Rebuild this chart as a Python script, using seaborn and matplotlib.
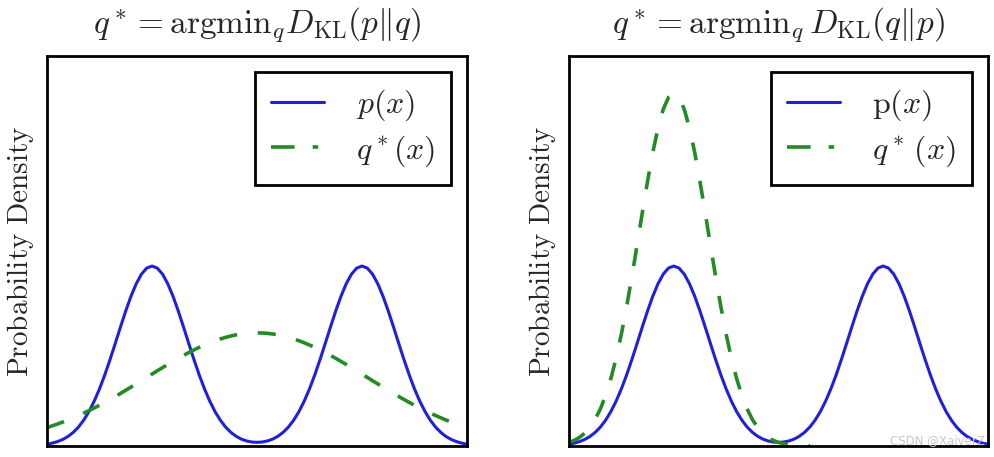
import numpy as np
import pandas as pd
import matplotlib
matplotlib.use("Agg")
import matplotlib.pyplot as plt
import seaborn as sns

# ---- data (x from -2 to 2, step 0.05) ----
x_vals = [round(-2.0 + 0.05 * i, 2) for i in range(81)]

# p(x): symmetric, listed from x=-2 to x=0
p_half = [0.0061, 0.0096, 0.0147, 0.0219, 0.0320, 0.0457, 0.0637, 0.0869, 0.1158, 0.1508,
          0.1918, 0.2386, 0.2900, 0.3445, 0.3999, 0.4537, 0.5031, 0.5452, 0.5774, 0.5976,
          0.6045, 0.5976, 0.5774, 0.5452, 0.5031, 0.4537, 0.3999, 0.3445, 0.2900, 0.2386,
          0.1918, 0.1508, 0.1158, 0.0870, 0.0640, 0.0462, 0.0329, 0.0233, 0.0170, 0.0134,
          0.0123]
p_vals = p_half + p_half[-2::-1]

# q*(x) left panel: symmetric, listed from x=-2 to x=0
q_left_half = [0.0619, 0.0678, 0.0739, 0.0805, 0.0874, 0.0948, 0.1025, 0.1105, 0.1190, 0.1278,
               0.1370, 0.1465, 0.1562, 0.1663, 0.1766, 0.1871, 0.1978, 0.2086, 0.2195, 0.2305,
               0.2415, 0.2524, 0.2632, 0.2738, 0.2843, 0.2944, 0.3043, 0.3137, 0.3228, 0.3313,
               0.3393, 0.3467, 0.3534, 0.3595, 0.3648, 0.3694, 0.3732, 0.3762, 0.3783, 0.3796,
               0.3800]
q_left_vals = q_left_half + q_left_half[-2::-1]

# q*(x) right panel: visible from x=-2 to about x=0.3
x_right_q = [round(-2.0 + 0.05 * i, 2) for i in range(47)]
q_right_vals = [0.0120, 0.0188, 0.0288, 0.0430, 0.0628, 0.0895, 0.1249, 0.1702, 0.2269, 0.2955,
                0.3759, 0.4676, 0.5683, 0.6752, 0.7838, 0.8892, 0.9861, 1.0685, 1.1315, 1.1712,
                1.1847, 1.1712, 1.1315, 1.0685, 0.9861, 0.8892, 0.7838, 0.6752, 0.5683, 0.4676,
                0.3759, 0.2955, 0.2269, 0.1702, 0.1249, 0.0895, 0.0628, 0.0430, 0.0288, 0.0188,
                0.0120, 0.0075, 0.0046, 0.0027, 0.0016, 0.0009, 0.0005]

titles = [r"$q^* = \mathrm{argmin}_q D_{\mathrm{KL}}(p\|q)$",
          r"$q^* = \mathrm{argmin}_q\, D_{\mathrm{KL}}(q\|p)$"]
p_labels = [r"$p(x)$", r"$\mathrm{p}(x)$"]
q_labels = [r"$q^*(x)$", r"$q^*\,(x)$"]
ylabel = r"$\mathrm{Probability\ Density}$"

sns.set_style("white")
plt.rcParams["mathtext.fontset"] = "cm"
plt.rcParams["font.family"] = ["DejaVu Sans"]
plt.rcParams["lines.scale_dashes"] = False

fig = plt.figure(figsize=(9.95, 4.57), dpi=100)
W, H = 995, 457
ax_l = fig.add_axes([47 / W, (H - 446) / H, 420 / W, 390 / H])
ax_r = fig.add_axes([569 / W, (H - 446) / H, 419 / W, 390 / H])

df_p = pd.DataFrame({"x": x_vals, "p": p_vals})
df_ql = pd.DataFrame({"x": x_vals, "q": q_left_vals})
df_qr = pd.DataFrame({"x": x_right_q, "q": q_right_vals})

blue = "#2020d8"
green = "#228b22"

for i, (ax, dq) in enumerate([(ax_l, df_ql), (ax_r, df_qr)]):
    sns.lineplot(data=df_p, x="x", y="p", ax=ax, color=blue, linewidth=2.2,
                 label=p_labels[i], legend=False)
    sns.lineplot(data=dq, x="x", y="q", ax=ax, color=green, linewidth=2.6,
                 label=q_labels[i], legend=False)
    ax.lines[-1].set_dashes((13, 15))
    ax.set_xlim(-2, 2)
    ax.set_ylim(0, 1.31)
    ax.set_xticks([])
    ax.set_yticks([])
    ax.set_xlabel("")
    ax.set_ylabel(ylabel, fontsize=21, labelpad=8)
    ax.set_title(titles[i], fontsize=24, pad=17)
    for s in ax.spines.values():
        s.set_visible(True)
        s.set_color("black")
        s.set_linewidth(2.0)
    leg = ax.legend(loc="upper right", fontsize=23, frameon=True, fancybox=False,
                    framealpha=1, edgecolor="black", handlelength=1.65,
                    handletextpad=1.0, borderpad=0.5, labelspacing=0.3,
                    borderaxespad=0.5)
    leg.get_frame().set_linewidth(2.0)
    leg.get_lines()[1].set_dashes((17, 13, 4, 60))

fig.text(985 / W, 1 - 441 / H, "CSDN @XaiverZ", ha="right", va="center",
         fontsize=8.5, color="#c8c8c8")

fig.savefig("out.png", dpi=100)
